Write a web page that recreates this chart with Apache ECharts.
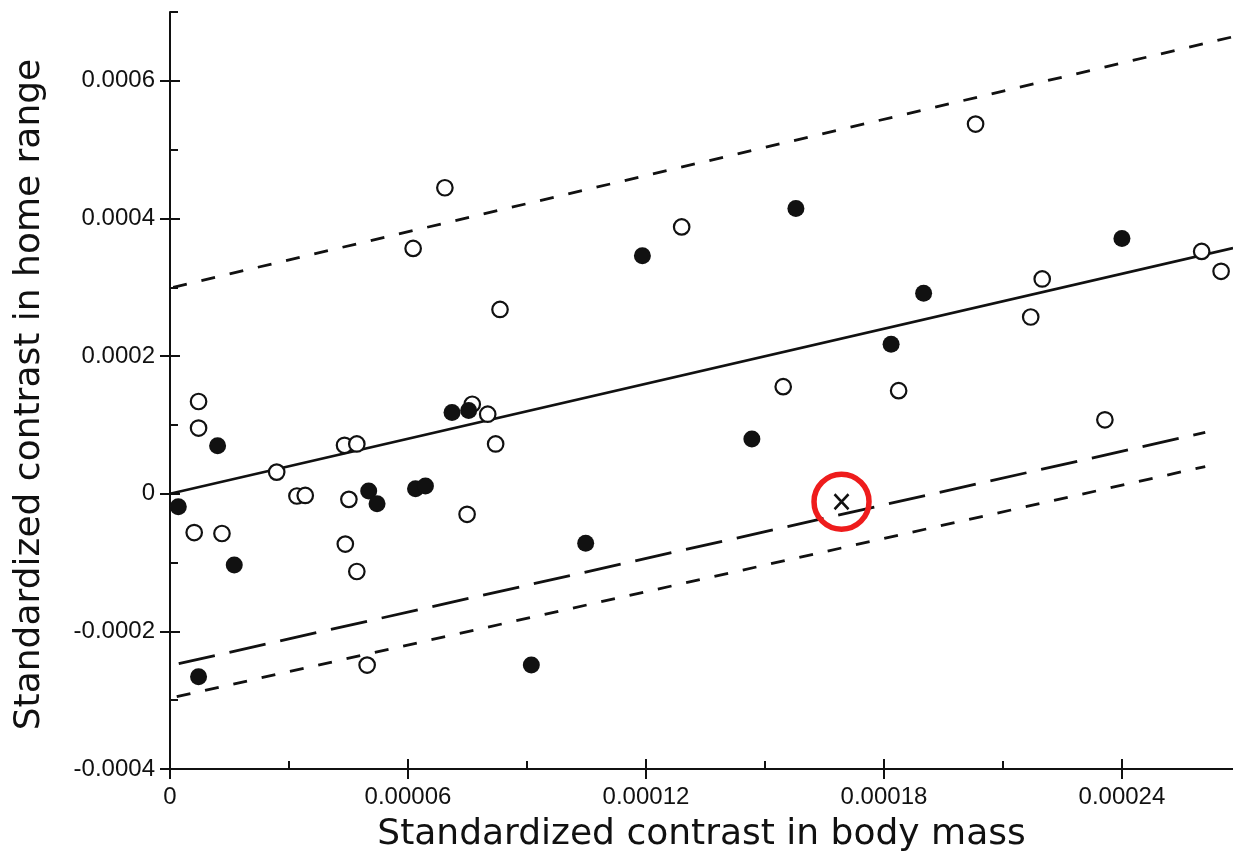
<!DOCTYPE html>
<html>
<head>
<meta charset="utf-8">
<script src="https://cdn.jsdelivr.net/npm/echarts@6/dist/echarts.min.js"></script>
<style>
  html, body { margin: 0; padding: 0; background: #ffffff; }
  #chart { width: 1233px; height: 858px; }
</style>
</head>
<body>
<div id="chart"></div>
<script>
// Axis ticks and labels
const xTickValues = [0, 0.00006, 0.00012, 0.00018, 0.00024];
const xTickLabels = ['0', '0.00006', '0.00012', '0.00018', '0.00024'];
const xMinorTicks = [0.00003, 0.00009, 0.00015, 0.00021];
const yTickValues = [-0.0004, -0.0002, 0, 0.0002, 0.0004, 0.0006];
const yTickLabels = ['-0.0004', '-0.0002', '0', '0.0002', '0.0004', '0.0006'];
const yMinorTicks = [-0.0003, -0.0001, 0.0001, 0.0003, 0.0005, 0.0007];

// Independent contrasts, open symbols: [body mass, home range]
const openContrasts = [
  [0.0000072, 0.000134], [0.0000072, 0.0000954], [0.0000269, 0.0000314],
  [0.0000320, -0.0000033], [0.0000341, -0.0000025], [0.0000061, -0.0000564],
  [0.0000131, -0.0000578], [0.0000440, 0.0000704], [0.0000471, 0.0000723],
  [0.0000451, -0.0000082], [0.0000442, -0.0000732], [0.0000471, -0.000113],
  [0.0000749, -0.0000299], [0.0000762, 0.000130], [0.0000801, 0.0001156],
  [0.0000821, 0.0000723], [0.0000693, 0.0004446], [0.0000613, 0.0003565],
  [0.0000832, 0.0002678], [0.0001290, 0.0003877], [0.0001546, 0.0001556],
  [0.0001837, 0.0001498], [0.0002031, 0.0005371], [0.0002199, 0.0003121],
  [0.0002170, 0.0002568], [0.0002601, 0.0003521], [0.0002650, 0.0003232],
  [0.0002357, 0.0001074], [0.0000497, -0.000249]
];

// Independent contrasts, filled symbols
const filledContrasts = [
  [0.0000120, 0.0000698], [0.0000021, -0.0000188], [0.0000162, -0.0001036],
  [0.0000501, 0.0000039], [0.0000522, -0.0000145], [0.0000619, 0.0000072],
  [0.0000644, 0.0000111], [0.0000711, 0.000118], [0.0000753, 0.000121],
  [0.0001191, 0.0003458], [0.0001578, 0.0004143], [0.0001900, 0.0002914],
  [0.0001818, 0.0002172], [0.0001467, 0.0000795], [0.0002400, 0.0003709],
  [0.0001048, -0.0000718], [0.0000911, -0.000249], [0.0000072, -0.0002659]
];

// Contrast plotted as a cross, ringed in red
const crossContrast = [[0.0001693, -0.0000116]];

// Regression line and interval lines (end points)
const fitLine = [[0, 0], [0.000268, 0.000357]];
const upperLine = [[0.0000008, 0.0003], [0.000268, 0.000664]];
const lowerLine = [[0.0000017, -0.000295], [0.000261, 0.0000395]];
const longDashLine = [[0.0000022, -0.000247], [0.000261, 0.000089]];

const X_MIN = 0, X_MAX = 0.000268;
const Y_MIN = -0.0004, Y_MAX = 0.0007;

const INK = '#111111';
const labelFont = 'Liberation Sans, Arial, sans-serif';
const titleFont = 'DejaVu Sans, sans-serif';

function pick(values, labels) {
  return function (v) {
    for (let i = 0; i < values.length; i++) {
      if (Math.abs(values[i] - v) < 1e-12) return labels[i];
    }
    return '';
  };
}

function baseAxis(min, max) {
  return {
    type: 'value', min: min, max: max,
    splitLine: { show: false },
    axisLine: { show: false, onZero: false },
    axisLabel: { show: false },
    axisTick: { show: false }
  };
}

// x axes: main line + labels + inner ticks, outer ticks, minor ticks
const xMain = Object.assign(baseAxis(X_MIN, X_MAX), {
  position: 'bottom',
  name: 'Standardized contrast in body mass',
  nameLocation: 'middle',
  nameGap: 48,
  nameTextStyle: { fontFamily: titleFont, fontSize: 36, color: INK },
  axisLine: { show: true, onZero: false, lineStyle: { color: INK, width: 2 } },
  axisTick: { show: true, inside: true, length: 10, customValues: xTickValues, lineStyle: { color: INK, width: 2 } },
  axisLabel: { show: true, margin: 16, customValues: xTickValues, formatter: pick(xTickValues, xTickLabels),
    fontFamily: labelFont, fontSize: 24, color: INK }
});
const xOuter = Object.assign(baseAxis(X_MIN, X_MAX), {
  position: 'bottom',
  axisTick: { show: true, inside: false, length: 10, customValues: xTickValues, lineStyle: { color: INK, width: 2 } }
});
const xMinor = Object.assign(baseAxis(X_MIN, X_MAX), {
  position: 'bottom',
  axisTick: { show: true, inside: true, length: 8, customValues: xMinorTicks, lineStyle: { color: INK, width: 2 } }
});

// y axes
const yMain = Object.assign(baseAxis(Y_MIN, Y_MAX), {
  position: 'left',
  name: 'Standardized contrast in home range',
  nameLocation: 'middle',
  nameGap: 122,
  nameTextStyle: { fontFamily: titleFont, fontSize: 36, color: INK, padding: [0, 8, 0, 0] },
  axisLine: { show: true, onZero: false, lineStyle: { color: INK, width: 2 } },
  axisTick: { show: true, inside: true, length: 10, customValues: yTickValues, lineStyle: { color: INK, width: 2 } },
  axisLabel: { show: true, margin: 15, customValues: yTickValues, formatter: pick(yTickValues, yTickLabels),
    fontFamily: labelFont, fontSize: 24, color: INK }
});
const yOuter = Object.assign(baseAxis(Y_MIN, Y_MAX), {
  position: 'left',
  axisTick: { show: true, inside: false, length: 10, customValues: yTickValues, lineStyle: { color: INK, width: 2 } }
});
const yMinor = Object.assign(baseAxis(Y_MIN, Y_MAX), {
  position: 'left',
  axisTick: { show: true, inside: true, length: 8, customValues: yMinorTicks, lineStyle: { color: INK, width: 2 } }
});

function refLine(data, dash) {
  return {
    type: 'line', data: data, showSymbol: false, symbol: 'none', silent: true,
    lineStyle: { color: INK, width: dash ? 2.8 : 2.6, type: dash || 'solid' },
    z: 1
  };
}

const chart = echarts.init(document.getElementById('chart'), null, { renderer: 'canvas' });
chart.setOption({
  animation: false,
  backgroundColor: '#ffffff',
  grid: { left: 170, top: 12, bottom: 85, right: 0, containLabel: false },
  xAxis: [xMain, xOuter, xMinor],
  yAxis: [yMain, yOuter, yMinor],
  series: [
    refLine(fitLine, null),
    refLine(upperLine, [14, 15]),
    refLine(lowerLine, [14, 15]),
    refLine(longDashLine, [37, 15]),
    {
      type: 'scatter', data: openContrasts, symbol: 'circle', symbolSize: 15.5, z: 3,
      itemStyle: { color: '#ffffff', borderColor: INK, borderWidth: 2.2, opacity: 1 }
    },
    {
      type: 'scatter', data: filledContrasts, symbol: 'circle', symbolSize: 17, z: 4,
      itemStyle: { color: INK, opacity: 1 }
    },
    {
      type: 'scatter', data: crossContrast, symbol: 'path://M0,0L10,11M10,0L0,11', symbolSize: [14, 15], z: 4,
      itemStyle: { color: 'none', borderColor: INK, borderWidth: 2.6, opacity: 1 }
    },
    {
      type: 'scatter', data: crossContrast, symbol: 'circle', symbolSize: 55, z: 5,
      itemStyle: { color: 'rgba(0,0,0,0)', borderColor: '#ee1c1c', borderWidth: 5.5, opacity: 1 }
    }
  ]
});
</script>
</body>
</html>
